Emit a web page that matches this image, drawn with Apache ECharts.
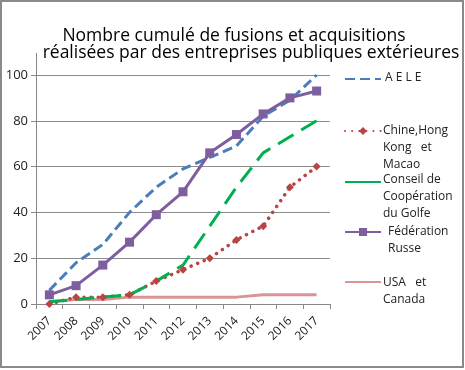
<!DOCTYPE html>
<html><head><meta charset="utf-8">
<script src="https://cdn.jsdelivr.net/npm/echarts@6/dist/echarts.min.js"></script>
<style>html,body{margin:0;padding:0;background:#fff}#c{width:465px;height:370px}</style>
</head><body><div id="c"></div>
<script>
const years = ['2007','2008','2009','2010','2011','2012','2013','2014','2015','2016','2017'];
const aele = [6, 18, 26, 40, 51, 59, 64, 69, 82, 89, 100];
const chine = [0, 3, 3, 4, 10, 15, 20, 28, 34, 51, 60];
const ccg = [1, 2, 3, 4, 10, 17, 34, 51, 66, 73, 80];
const russie = [4, 8, 17, 27, 39, 49, 66, 74, 83, 90, 93];
const usa = [1, 2, 2, 3, 3, 3, 3, 3, 4, 4, 4];
const names = ['A E L E', 'Chine,Hong Kong et Macao', 'Conseil de Coopération du Golfe', 'Fédération Russe', 'USA et Canada'];
const legendLines = [['A E L E'], ['Chine,Hong', 'Kong   et', 'Macao'], ['Conseil de', 'Coopération', 'du Golfe'], ['Fédération', 'Russe'], ['USA   et', 'Canada']];
const titleLines = ['Nombre cumulé de fusions et acquisitions', 'réalisées par des entreprises publiques extérieures'];
const yTicks = [0, 20, 40, 60, 80, 100];

const font = '"Open Sans", "Noto Sans", sans-serif';
const iconY = [79, 131, 182, 232, 282];
const textX = [385, 383, 383, 388, 383];
const textY = [78, 131, 180, 232, 283];

const legends = names.map((n, i) => {
  const item = {name: n};
  if (i === 0 || i === 2 || i === 4) item.itemStyle = {opacity: 0};
  if (i === 2) item.lineStyle = {type: 'solid'};
  return {
    data: [item], left: 344, top: iconY[i] - 5, itemWidth: 36, itemHeight: 10, padding: 0,
    selectedMode: false, formatter: () => '', textStyle: {fontSize: 1}
  };
});
const legendTexts = legendLines.map((lines, i) => ({
  type: 'text', left: textX[i], top: textY[i] - 9, silent: true,
  style: {text: lines.join('\n'), font: '12px ' + font, fill: '#222', lineHeight: 17}
}));

const chart = echarts.init(document.getElementById('c'));
chart.setOption({
  animation: false,
  title: [
    {text: titleLines[0], left: 234, top: 27, textAlign: 'center', padding: 0,
      textStyle: {fontFamily: font, fontSize: 17.5, fontWeight: 'normal', color: '#000', lineHeight: 18}},
    {text: titleLines[1], left: 251, top: 44, textAlign: 'center', padding: 0,
      textStyle: {fontFamily: font, fontSize: 17.5, fontWeight: 'normal', color: '#000', lineHeight: 18}}
  ],
  legend: legends,
  grid: {left: 36, right: 135, top: 75, bottom: 66},
  xAxis: {
    type: 'category', data: years, boundaryGap: true,
    axisLine: {lineStyle: {color: '#888', width: 1}},
    axisTick: {show: true, length: 5, lineStyle: {color: '#888'}},
    axisLabel: {rotate: 45, fontFamily: font, fontSize: 12, color: '#222', margin: 15}
  },
  yAxis: {
    type: 'value', min: 0, max: 100, interval: 20,
    axisLine: {show: true, lineStyle: {color: '#888', width: 1}},
    axisTick: {show: true, length: 5, lineStyle: {color: '#888'}},
    axisLabel: {fontFamily: font, fontSize: 13, color: '#222', margin: 8,
      formatter: v => yTicks.includes(v) ? String(v) : ''},
    splitLine: {lineStyle: {color: '#8c8c8c', width: 1}}
  },
  series: [
    {name: names[0], type: 'line', data: aele, symbol: 'none',
      lineStyle: {color: '#4a7ebb', width: 3, type: [10, 5]}, itemStyle: {color: '#4a7ebb'}, z: 3},
    {name: names[1], type: 'line', data: chine, symbol: 'diamond', symbolSize: 8,
      lineStyle: {color: '#b84444', width: 3.5, type: [0.1, 7], cap: 'round'}, itemStyle: {color: '#b84444'}, z: 2},
    {name: names[2], type: 'line', data: ccg, symbol: 'none',
      lineStyle: {color: '#00b050', width: 3, type: [18, 9]}, itemStyle: {color: '#00b050'}, z: 2},
    {name: names[3], type: 'line', data: russie, symbol: 'rect', symbolSize: 9,
      lineStyle: {color: '#7d5fa0', width: 3}, itemStyle: {color: '#7d5fa0'}, z: 4},
    {name: names[4], type: 'line', data: usa, symbol: 'none',
      lineStyle: {color: '#d99594', width: 3}, itemStyle: {color: '#d99594'}, z: 1}
  ],
  graphic: [
    {type: 'rect', shape: {x: 1, y: 1, width: 462, height: 366}, style: {fill: 'none', stroke: '#8a8a8a', lineWidth: 2}, silent: true},
    {type: 'line', shape: {x1: 36.5, y1: 53, x2: 36.5, y2: 75}, style: {stroke: '#888', lineWidth: 1}, silent: true}
  ].concat(legendTexts)
});
</script></body></html>
